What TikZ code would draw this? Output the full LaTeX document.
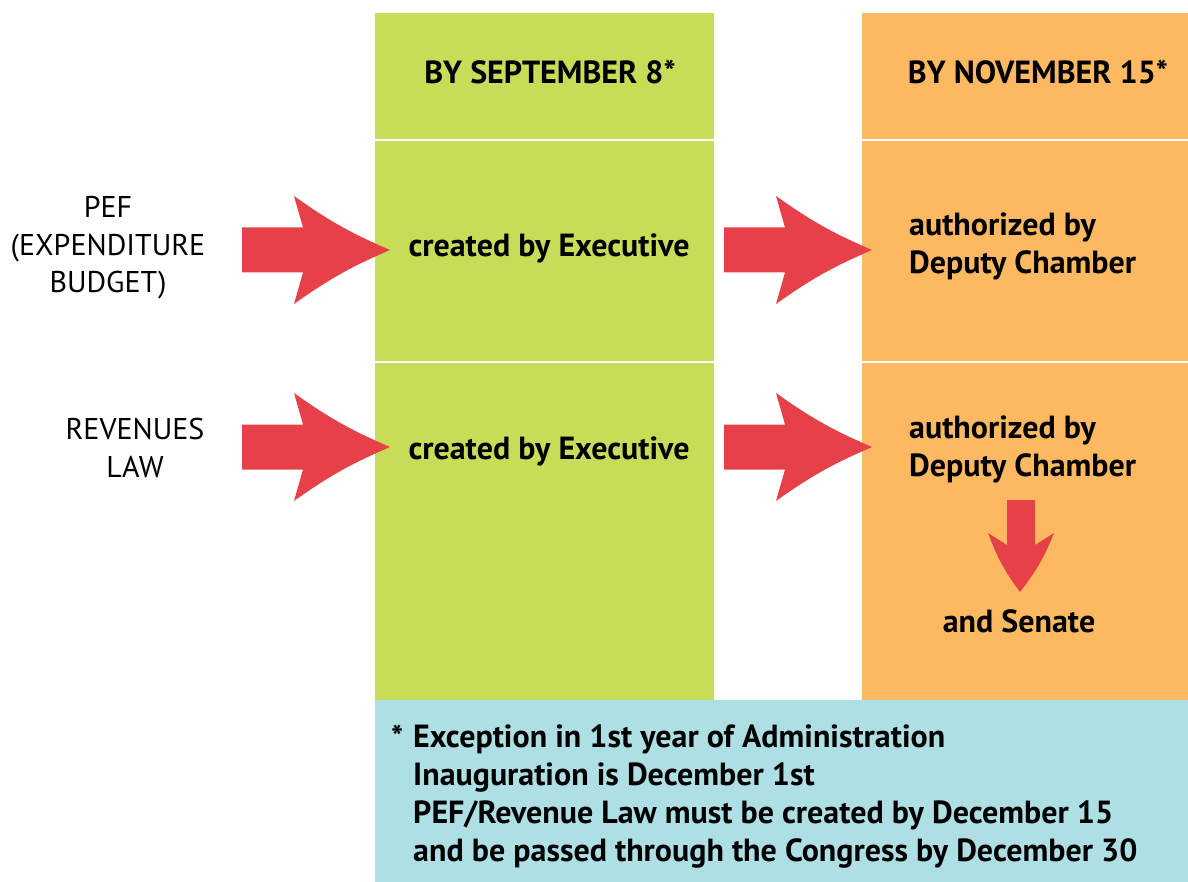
\documentclass[tikz,border=0pt]{standalone}
\usepackage{fontspec}
\setmainfont{PT Sans}
\definecolor{colgreen}{RGB}{200,220,88}
\definecolor{colorange}{RGB}{252,185,98}
\definecolor{colblue}{RGB}{173,223,228}
\definecolor{colred}{RGB}{230,64,72}
\tikzset{
  lbl/.style={font=\fontsize{30}{37.5}\selectfont, align=center, inner sep=0pt, text=black},
  bld/.style={font=\bfseries\fontsize{32}{38}\selectfont, inner sep=0pt, text=black},
  sep/.style={white, line width=2pt},
  rarr/.pic={\fill[colred] (-148,-22.5) -- (-87,-22.5) -- (-96,-54) to[bend right=6] (0,0) to[bend right=6] (-96,54) -- (-87,22.5) -- (-148,22.5) -- cycle;},
  darr/.pic={\fill[colred] (-14,0) -- (14,0) -- (14,45) -- (33,33) to[bend left=8] (-1,92) to[bend left=8] (-33,33) -- (-14,45) -- cycle;}
}
\begin{document}
\begin{tikzpicture}[x=1pt,y=-1pt]
\useasboundingbox (0,0) rectangle (1188,882);
% columns
\fill[colgreen] (375,13) rectangle (714,700);
\fill[colorange] (862,13) rectangle (1188,700);
\fill[colblue] (375,700) rectangle (1188,882);
\draw[sep] (375,140) -- (714,140);
\draw[sep] (375,362) -- (714,362);
\draw[sep] (862,140) -- (1188,140);
\draw[sep] (862,362) -- (1188,362);
% headers
\node[bld] (h1) at (550,72) {BY SEPTEMBER 8*};
\node[bld] (h2) at (1038,72) {BY NOVEMBER 15*};
% left labels
\node[lbl] (pef) at (108,248) {PEF\\(EXPENDITURE\\BUDGET)};
\node[lbl] (rev) at (135,448) {REVENUES\\LAW};
% green cells
\node[bld] (c1) at (549,248) {created by Executive};
\node[bld] (c2) at (549,451) {created by Executive};
% orange cells
\node[bld, align=left, anchor=west] (a1) at (909,246) {authorized by\\Deputy Chamber};
\node[bld, align=left, anchor=west] (a2) at (909,449) {authorized by\\Deputy Chamber};
\node[bld] (sen) at (1019,621) {and Senate};
% arrows
\pic at (390,250) {rarr};
\pic at (390,447) {rarr};
\pic at (872,250) {rarr};
\pic at (872,447) {rarr};
\pic at (1021,500) {darr};
% footnote
\node[bld, anchor=base west] (star) at (391,748) {*};
\node[bld, align=left, anchor=base west] (fn) at (413,861) {Exception in 1st year of Administration\\Inauguration is December 1st\\PEF/Revenue Law must be created by December 15\\and be passed through the Congress by December 30};
\end{tikzpicture}
\end{document}
